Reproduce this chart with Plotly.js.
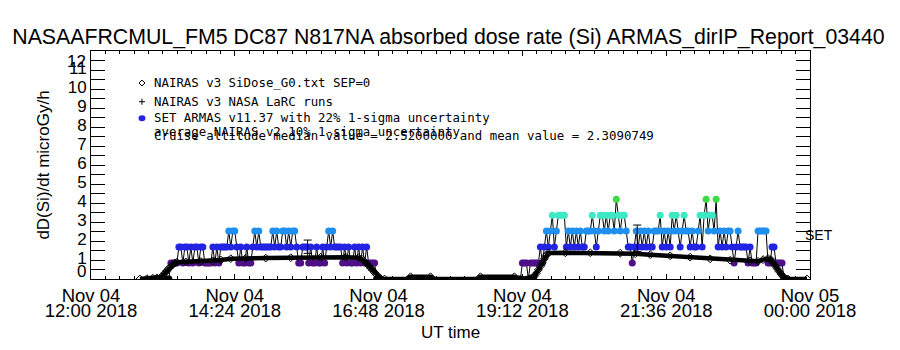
<!DOCTYPE html>
<html><head><meta charset="utf-8">
<script src="https://cdn.plot.ly/plotly-3.0.1.min.js"></script>
<style>html,body{margin:0;padding:0;background:#fff}#chart{width:900px;height:350px}</style>
</head><body><div id="chart"></div>
<script>
// ---- data (time = minutes after 2018-11-04 12:00 UT) ----
const armasMin1 = [76,78,80,82,84,86,88,90,92,94,96,98,100,102,104,106,108,110,112,114,116,118,120,122,124,126,128,130,132,134,136,138,140,142,144,146,148,150,152,154,156,158,160,162,164,166,168,170,172,174,176,178,180,182,184,186,188,190,192,194,196,198,200,202,204,206,208,210,212,214,216,218,220,222,224,226,228,230,232,234,236,238,240,242,244,246,248,250,252,254,256,258,260,262,264,266,268,270,272,274,276,278,280,282,284,286,288];
const armasVal1 = [0,0,0.84,0.84,0.84,0.84,1.68,1.68,0.84,1.68,1.68,0.84,1.68,0.84,1.68,1.68,0.84,1.68,1.68,0.84,0.84,0.84,0.84,1.68,0.84,1.68,0.84,1.68,1.68,1.68,1.68,2.52,1.68,2.52,2.52,1.68,0.84,1.68,0.84,0.84,1.68,0.84,0.84,1.68,2.52,1.68,2.52,1.68,1.68,1.68,1.68,1.68,1.68,2.52,1.68,2.52,1.68,1.68,2.52,2.52,1.68,2.52,1.68,2.52,2.52,1.68,0.84,0.84,1.68,1.68,1.68,0.84,1.68,0.84,0.84,1.68,0.84,0.84,1.68,0.84,1.68,2.52,1.68,2.52,1.68,1.68,1.68,1.68,0.84,1.68,0.84,1.68,0.84,0.84,1.68,0.84,1.68,0.84,1.68,0.84,1.68,0.84,0.84,0.84,0.84,0,0];
const armasMin2 = [428,430,432,434,436,438,440,442,444,446,448,450,452,454,456,458,460,462,464,466,468,470,472,474,476,478,480,482,484,486,488,490,492,494,496,498,500,502,504,506,508,510,512,514,516,518,520,522,524,526,528,530,532,534,536,538,540,542,544,546,548,550,552,554,556,558,560,562,564,566,568,570,572,574,576,578,580,582,584,586,588,590,592,594,596,598,600,602,604,606,608,610,612,614,616,618,620,622,624,626,628,630,632,634,636,638,640,642,644,646,648,650,652,654,656,658,660,662,664,666,668,670,672,674,676,678,680,682,684,686,688,690,692,694,696];
const armasVal2 = [0,0,0.84,0.84,0.84,0,0.84,0.84,0.84,0.84,0.84,1.68,0.84,1.68,2.52,1.68,2.52,3.36,1.68,2.52,3.36,3.36,3.36,3.36,1.68,2.52,1.68,2.52,1.68,2.52,1.68,2.52,1.68,1.68,2.52,2.52,2.52,3.36,2.52,1.68,2.52,3.36,3.36,2.52,3.36,2.52,3.36,3.36,2.52,4.2,3.36,2.52,3.36,3.36,2.52,1.68,1.68,0.84,1.68,2.52,1.68,2.52,1.68,2.52,1.68,2.52,1.68,1.68,2.52,2.52,2.52,3.36,1.68,2.52,1.68,2.52,1.68,3.36,2.52,3.36,2.52,1.68,2.52,3.36,2.52,2.52,1.68,2.52,1.68,1.68,2.52,3.36,1.68,3.36,4.2,2.52,3.36,3.36,2.52,4.2,1.68,2.52,1.68,2.52,1.68,2.52,2.52,1.68,0.84,1.68,2.52,1.68,1.68,1.68,1.68,0.84,1.68,0.84,0.84,0.84,2.52,2.52,2.52,2.52,2.52,0.84,0.84,1.68,1.68,0.84,0.84,0.84,0.84,0,0];
const modelMin = [49,56,62,66,70,72,74,76,78,80,82,84,86,95,110,122,130,140,155,175,200,230,255,268,272,274,276,278,280,282,284,286,288,290,294,318,320,340,342,388,390,424,426,440,442,444,446,448,450,452,454,456,458,475,500,530,545,560,580,600,620,640,660,668,673,678,681,683,685,687,689,691,693,695,698,717];
const modelVal = [0,0.02,0.04,0.06,0.1,0.2,0.32,0.44,0.56,0.66,0.76,0.84,0.88,0.9,0.92,0.95,1.0,1.07,1.1,1.1,1.12,1.15,1.15,1.12,1.02,0.92,0.82,0.7,0.58,0.46,0.34,0.22,0.1,0.03,0,0,0.12,0.12,0,0,0.12,0.12,0,0.02,0.06,0.15,0.3,0.48,0.66,0.86,1.06,1.25,1.37,1.38,1.38,1.36,1.33,1.28,1.22,1.15,1.06,0.99,0.95,0.93,1.02,1.08,1.02,0.85,0.7,0.55,0.4,0.26,0.13,0.04,0,0];
const errMin = [217, 547];
const errVal = [1.70, 2.14];
const errHalf = [0.35, 0.70];
const doseLevels = [0, 0.84, 1.68, 2.52, 3.36, 4.2];
const levelColors = ['#000000', '#4e0f87', '#2323e3', '#1f8ff0', '#3fe8c4', '#3ddc45'];
const yTickVals = [0,1,2,3,4,5,6,7,8,9,10,11,12];
const medianValue = 2.52;
const meanValue = 2.3090749;
const titleText = 'NASAAFRCMUL_FM5 DC87 N817NA absorbed dose rate (Si) ARMAS_dirIP_Report_03440';
const legendLines = ['NAIRAS v3 SiDose_G0.txt SEP=0', 'NAIRAS v3 NASA LaRC runs', 'SET ARMAS v11.37 with 22% 1-sigma uncertainty', 'average NAIRAS v2 10% 1-sigma uncertainty'];

// ---- helpers ----
const startUT = Date.UTC(2018, 10, 4, 12, 0, 0);
function ut(m) { return new Date(startUT + m * 60000).toISOString().slice(0, 19).replace('T', ' '); }
function levelColor(v) {
  let best = 0;
  doseLevels.forEach((l, i) => { if (Math.abs(l - v) < Math.abs(doseLevels[best] - v)) best = i; });
  return levelColors[best];
}
const FONT = '"Liberation Sans", Arial, sans-serif';
const MONO = '"DejaVu Sans Mono", "Liberation Mono", monospace';

const armasTrace = (mins, vals) => ({
  x: mins.map(ut), y: vals, type: 'scatter', mode: 'lines+markers',
  line: {color: '#000', width: 1},
  marker: {size: 7, color: vals.map(levelColor), line: {width: 0}},
  xaxis: 'x', yaxis: 'y', hoverinfo: 'skip'
});

const traces = [
  armasTrace(armasMin1, armasVal1),
  armasTrace(armasMin2, armasVal2),
  {x: modelMin.map(ut), y: modelVal, type: 'scatter', mode: 'lines+markers',
   line: {color: '#000', width: 4.5},
   marker: {symbol: 'diamond-open', size: 6, color: '#000', line: {width: 1, color: '#000'}},
   xaxis: 'x', yaxis: 'y', hoverinfo: 'skip'},
  {x: errMin.map(ut), y: errVal, type: 'scatter', mode: 'markers',
   marker: {size: 1, color: 'rgba(0,0,0,0)'},
   error_y: {type: 'data', array: errHalf, visible: true, color: '#000', thickness: 1, width: 4},
   xaxis: 'x2', yaxis: 'y', hoverinfo: 'skip'}
];

const range = [ut(0), ut(720)];
const legX = 0.0709, legTextX = 0.0848;
const legTextY = [0.8618, 0.7807, 0.7083, 0.6491, 0.6294];
const legSymY = [0.8596, 0.7776, 0.7048];
const legFont = {size: 12.4, family: MONO, color: '#000'};

const annotations = legendLines.map((t, i) => ({
  xref: 'paper', yref: 'paper', x: legTextX, y: legTextY[i], xanchor: 'left', yanchor: 'middle',
  text: t, showarrow: false, font: legFont
}));
annotations.push({
  xref: 'paper', yref: 'paper', x: legTextX, y: legTextY[4], xanchor: 'left', yanchor: 'middle', showarrow: false,
  text: 'Cruise altitude median value = ' + medianValue.toFixed(7) + ' and mean value = ' + meanValue.toFixed(7),
  font: legFont
});
annotations.push({
  xref: 'paper', yref: 'y', x: 0.9903, y: meanValue, xanchor: 'left', yanchor: 'middle', showarrow: false,
  text: 'SET', font: {size: 14, family: FONT, color: '#000'}
});
// end labels of the y axis, pulled inside the axis range as in the original plot
annotations.push({
  xref: 'paper', yref: 'y', x: 0, y: yTickVals[yTickVals.length - 1], xanchor: 'right', yanchor: 'top', xshift: -3, yshift: 1,
  showarrow: false, text: String(yTickVals[yTickVals.length - 1]), font: {size: 17, family: FONT, color: '#000'}
});
annotations.push({
  xref: 'paper', yref: 'y', x: 0, y: yTickVals[0], xanchor: 'right', yanchor: 'bottom', xshift: -3, yshift: -4,
  showarrow: false, text: String(yTickVals[0]), font: {size: 17, family: FONT, color: '#000'}
});

const shapes = [
  {type: 'path', xref: 'paper', yref: 'paper', xsizemode: 'pixel', ysizemode: 'pixel', xanchor: legX, yanchor: legSymY[0],
   path: 'M 0 3 L 3 0 L 0 -3 L -3 0 Z', line: {color: '#000', width: 1}},
  {type: 'path', xref: 'paper', yref: 'paper', xsizemode: 'pixel', ysizemode: 'pixel', xanchor: legX, yanchor: legSymY[1],
   path: 'M -3 0 L 3 0 M 0 -3 L 0 3', line: {color: '#000', width: 1}},
  {type: 'circle', xref: 'paper', yref: 'paper', xsizemode: 'pixel', ysizemode: 'pixel', xanchor: legX, yanchor: legSymY[2],
   x0: -3.5, x1: 3.5, y0: -3, y1: 3, fillcolor: levelColors[2], line: {width: 0}}
];

const layout = {
  width: 900, height: 350,
  margin: {l: 91, r: 90, t: 51, b: 71, pad: 0},
  paper_bgcolor: '#fff', plot_bgcolor: '#fff',
  showlegend: false,
  font: {family: FONT, color: '#000', size: 18},
  title: {text: titleText, font: {size: 21.3, family: FONT, color: '#000'},
          x: 0.4983, xanchor: 'center', xref: 'container', y: 0.897, yanchor: 'middle', yref: 'container'},
  xaxis: {type: 'date', range: range, tick0: ut(0), dtick: 8640000, tickformat: '%b %d',
          ticks: 'inside', ticklen: 5, tickcolor: '#000', tickwidth: 1,
          showline: true, linecolor: '#000', linewidth: 1, mirror: 'allticks',
          showgrid: false, zeroline: false, tickfont: {size: 18.5},
          minor: {dtick: 864000, ticks: 'inside', ticklen: 3, tickcolor: '#000', showgrid: false}},
  xaxis2: {type: 'date', range: range, tick0: ut(0), dtick: 8640000, tickformat: '%H:%M %Y',
           overlaying: 'x', anchor: 'y', side: 'bottom', ticks: '', showline: false, showgrid: false,
           zeroline: false, tickfont: {size: 18.5}, ticklabelstandoff: 18,
           title: {text: 'UT time', font: {size: 17}, standoff: 6}},
  yaxis: {range: [0, 12], tickmode: 'array', tickvals: yTickVals,
          ticktext: yTickVals.map((v, i) => (i === 0 || i === yTickVals.length - 1) ? '' : String(v)),
          ticks: 'inside', ticklen: 14, tickcolor: '#000', tickwidth: 1, ticklabelshift: -2,
          showline: true, linecolor: '#000', linewidth: 1, mirror: 'allticks',
          showgrid: false, zeroline: false, tickfont: {size: 17},
          minor: {tickmode: 'linear', tick0: 0, dtick: 0.5, ticks: 'inside', ticklen: 7, tickcolor: '#000', showgrid: false},
          title: {text: 'dD(Si)/dt microGy/h', font: {size: 17}, standoff: 13}},
  annotations: annotations,
  shapes: shapes
};

Plotly.newPlot('chart', traces, layout, {staticPlot: true, displayModeBar: false});
</script>
</body></html>
